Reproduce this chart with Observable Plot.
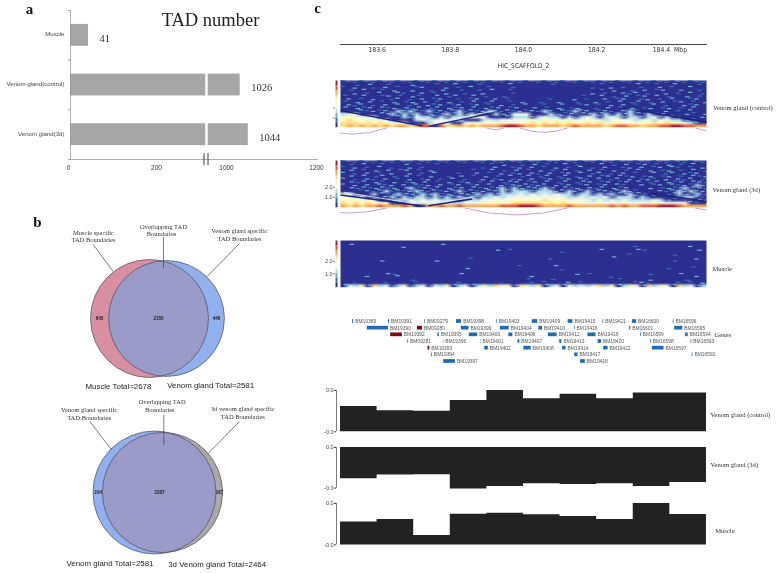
<!DOCTYPE html>
<html>
<head>
<meta charset="utf-8">
<script src="https://cdn.jsdelivr.net/npm/d3@7"></script>
<script src="https://cdn.jsdelivr.net/npm/@observablehq/plot@0.6"></script>
<style>
html,body{margin:0;padding:0;background:#fff}
#fig{position:relative;width:778px;height:573px;overflow:hidden;filter:blur(0.3px)}
#fig svg{position:absolute;background:transparent;overflow:visible}
</style>
</head>
<body>
<div id="fig"></div>
<script>
// ---------- panel a ----------
const tadCategories = ["Muscle", "Venom gland(control)", "Venom gland(3d)"];
const tadCounts = [41, 1026, 1044];
const tadTicks = [0, 200, 1000, 1200];

// ---------- panel b ----------
const venn1Names = ["Muscle", "Venom gland"];
const venn1Totals = [2678, 2581];
const venn2Names = ["Venom gland", "3d Venom gland"];
const venn2Totals = [2581, 2464];

// ---------- panel c : Hi-C contact levels read by eye (0 = navy ... 9 = dark red) ----------
const hicControl = [
"1111111111 1111111111 1111111111 1111111111 1111111111 1111111111",
"0010200100 0200010020 0010000200 0000100000 0010000020 0100200010",
"1020010201 0012000201 0200100010 0000000000 0100201001 0020100200",
"0102001020 0200102001 0010200100 0000000000 0010200102 0120020010",
"0020102002 1002010200 1002000010 0000000000 0201002120 1002010201",
"1002001201 0210020120 0201001000 0000000001 0020102012 0201002010",
"0201020012 0102012001 0120020100 0000100020 1002012001 2010200120",
"1020201020 1202010201 0201200102 0010020010 0201020120 1020120102",
"0212010202 0120212012 0120102010 2001002001 2010202010 0201002120",
"2021202120 2120120212 0202120120 0201020120 0102010201 2012010200",
"0002121213 2321312123 1212321212 1213202132 2012102310 0002010200",
"3440002232 3231212323 2321232144 4002321212 2323132321 3120002102",
"5544440002 3243323233 3444000233 3234332323 4323432332 3423210002",
"5655454400 0034344444 0003434444 4545454544 5443454434 4344332100",
"6665656545 5000344400 4545454545 5656565655 6565554545 5656554321",
"6767676767 7678808667 6767778998 7767776787 7776788776 7788998877"];
const hic3d = [
"1111111111 1111111111 1111111111 1111111111 1111111111 1111111111",
"0102001000 2010010000 0000102001 0201002010 0020102012 0102010200",
"1020102010 0201000000 0001020012 0201020102 0102001202 0120210102",
"0201020201 2010200000 0100201020 1020102010 2010201020 2012010201",
"2010201020 0201020001 0020102012 0210201202 0120102010 0201202120",
"0202012010 2010200102 0102010201 2012012010 2012021201 2012010212",
"2010210201 0201201020 1002012012 0201201202 1020120201 2102021201",
"0212021020 1202010201 2010201220 1202012012 2012012020 1202120221",
"2020202120 2021202012 0120202122 2122021201 2012021002 0120212132",
"0212122120 2312120212 0212123132 2223202120 2120212000 2012123221",
"0001212312 1232121223 1212223233 3233322322 3122123210 0021232322",
"4400032123 2223231212 2232323334 3434343323 3232322321 0001232231",
"4544000232 3233232323 2323343444 4444444334 3434233323 2100023321",
"5454540023 3434343332 3334444455 5556555444 4343434333 3432100022",
"6565654500 0445444433 4445555566 6665656555 4454445444 4544444210",
"7676778777 8700778778 7777778889 9987777877 7777878778 8899987777"];
const hicMuscle = [
"0000000000 0000000000 0000000000 0000000000 0000000000 0000000000",
"0200000000 0000002000 0000000000 0000000000 0000000000 0000000000",
"0000000000 2000000000 0000000000 0000000000 0000000010 0000000200",
"0000000000 0000000000 0000020100 0000000000 0020000021 0000000020",
"0000000000 0000000000 0000000000 0000001000 0000000100 0000000000",
"0000000000 0000000000 0000000000 0000000000 0000200000 0000100000",
"0000000000 0000000000 0100000000 0000100000 0000000000 0000000020",
"0000002000 0000020000 0000000000 0000000000 0000000000 0000100000",
"0000000000 0000000000 0000000001 0000020000 0000000000 0000000000",
"0000000000 0000000000 2000000000 0000000000 0000000000 0001000100",
"0000000000 0000000000 0000000000 0000001000 0000000000 0000000000",
"0000000210 0000000002 0000000000 0000000020 1000000000 1000020000",
"0000200002 0000000000 0000000000 0200000000 0000100000 0000000020",
"0000000000 0100000000 0000000000 1000100000 0000010000 2000001000",
"0010000100 0010000001 0000001000 0101000201 0000000012 1000010102",
"2435263423 5234243523 4235364526 4352342534 3463523542 6354263423"];
const hicLevels = [9, 8, 7, 6, 5, 4, 3, 2, 1, 0];
const hicPalette = ["#2b3090", "#3f6cb4", "#74aed2", "#b5dcea", "#eef8ec", "#ffffbf", "#fedf8d", "#fca85e", "#ea5a3a", "#b4162a"];

// Boundary stripes: [start Mbp, start row, end Mbp, end row]
const stripesControlDark = [[183.5,10.3,183.724,15.6],[183.74,15.7,183.92,11],[184.32,10.3,184.5,14.3]];
const stripesControlLight = [[183.5,11.3,183.71,15.4],[183.74,15.3,183.92,10.3]];
const stripes3dDark = [[183.5,11.8,183.72,15.5],[183.74,15.5,183.86,13.2],[184.35,11.2,184.5,14]];
const stripes3dLight = [[183.51,10.9,183.7,14.7],[183.74,15,183.86,12.6]];

// TAD-boundary links (start, end in Mbp)
const arcsControlStart = [183.44, 183.9, 183.99, 184.47];
const arcsControlEnd = [183.625, 183.945, 184.12, 184.56];
const arcs3dStart = [183.42, 183.84, 184.47];
const arcs3dEnd = [183.625, 184.12, 184.56];

// ---------- genes ----------
const geneNames = ["BM19389","BM19391","BM09279","BM19398","BM19403","BM19409","BM19415","BM19421","BM16600","BM16596",
"BM19390","BM09280","BM19399","BM19404","BM19410","BM19416","BM16601","BM16595",
"BM19392","BM19395","BM19400","BM19406","BM19412","BM19419","BM16599","BM16594",
"BM09281","BM19396","BM19401","BM19407","BM19413","BM19420","BM16598","BM16593",
"BM19393","BM19402","BM19408","BM19414","BM19422","BM16597",
"BM19394","BM19417","BM16592",
"BM19397","BM19418"];
const geneStarts = [183.533,183.631,183.730,183.817,183.926,184.024,184.122,184.217,184.298,184.409,
183.573,183.710,183.830,183.937,184.042,184.139,184.290,184.413,
183.637,183.766,183.852,183.960,184.068,184.176,184.320,184.443,
183.684,183.781,183.883,183.985,184.099,184.204,184.347,184.458,
183.739,183.894,184.001,184.107,184.219,184.352,
183.749,184.140,184.461,
183.782,184.156];
const geneEnds = [183.536,183.634,183.732,183.831,183.928,184.039,184.135,184.219,184.309,184.411,
183.631,183.724,183.851,183.961,184.052,184.141,184.293,184.435,
183.669,183.770,183.875,183.971,184.092,184.198,184.322,184.450,
183.686,183.782,183.884,183.990,184.105,184.213,184.349,184.460,
183.744,183.904,184.021,184.116,184.231,184.384,
183.751,184.149,184.463,
183.814,184.169];
const geneRows = [0,0,0,0,0,0,0,0,0,0, 1,1,1,1,1,1,1,1, 2,2,2,2,2,2,2,2, 3,3,3,3,3,3,3,3, 4,4,4,4,4,4, 5,5,5, 6,6];
const geneRedNames = ["BM09280", "BM19392", "BM19393"];

// ---------- bottom tracks (fraction of the axis span, 10 bins) ----------
const trackEdges = [183.5,183.6,183.7,183.8,183.9,184.0,184.1,184.2,184.3,184.4,184.5];
const trackControl = [0.61,0.51,0.50,0.76,1.00,0.80,0.91,0.80,0.94,0.94];
const track3d = [0.23,0.32,0.33,-0.02,0.04,0.11,0.09,0.11,0.04,0.14];
const trackMuscle = [0.556,0.613,0.226,0.742,0.766,0.726,0.685,0.613,1.00,0.734];

// ------------------------------------------------------------------
const fig = document.getElementById("fig");
const place = (svg, left, top) => { svg.style.left = left + "px"; svg.style.top = top + "px"; fig.appendChild(svg); return svg; };
const sans = "'Liberation Sans', Arial, sans-serif";
const serif = "'Liberation Serif', 'Times New Roman', serif";
const cond = "'DejaVu Sans Condensed','DejaVu Sans',sans-serif";
const mbpDomain = [183.5, 184.5];

// ---- a: bars on a broken axis ----
const tadRows = tadCategories.map((name, i) => ({name, i, n: tadCounts[i]}));
place(Plot.plot({
  width: 330, height: 180, marginLeft: 70, marginRight: 12, marginTop: 10, marginBottom: 21,
  style: {fontFamily: sans, background: "transparent"},
  x: {type: "linear", domain: tadTicks, range: [70, 158, 228, 318]},
  y: {domain: [0, 3], range: [10, 159]},
  marks: [
    Plot.rect(tadRows, {x1: () => 0, x2: "n", y1: d => d.i + 0.28, y2: d => d.i + 0.72, fill: "#a6a6a6"}),
    Plot.ruleX([748], {y1: 0, y2: 3, stroke: "#fff", strokeWidth: 2.4}),
    Plot.ruleY([3], {x1: 0, x2: 1200, stroke: "#9a9a9a", strokeWidth: 0.8}),
    Plot.ruleX([0], {y1: 0, y2: 3, stroke: "#9a9a9a", strokeWidth: 0.8}),
    Plot.ruleX([720, 766], {y1: 2.88, y2: 3.12, stroke: "#222", strokeWidth: 0.9}),
    Plot.axisY({anchor: "left", ticks: [0, 1, 2, 3], tickFormat: () => "", tickSize: 2, stroke: "#9a9a9a", label: null}),
    Plot.axisX({anchor: "bottom", ticks: tadTicks, tickFormat: d3.format("d"), tickSize: 0, tickPadding: 6, fontSize: 6.5, dx: -2, fill: "#333", label: null}),
    Plot.text(tadRows, {x: () => 0, y: d => d.i + 0.5, text: "name", textAnchor: "end", dx: -6, dy: -1, fontSize: 6.1, fill: "#444"}),
    Plot.text(tadRows, {x: "n", y: d => d.i + 0.5, text: d => String(d.n), textAnchor: "start", dx: 11, dy: 3, fontSize: 10.5, fontFamily: serif, fill: "#333"})
  ]
}), 0, 0);

// ---- b: venn circles, area proportional to total ----
function venn(names, totals, rMax, xRange, colors, top, id) {
  const sets = names.map((name, i) => ({name, i, total: totals[i]}));
  const svg = Plot.plot({
    width: 300, height: 140, margin: 0,
    x: {domain: [0, 1], range: xRange, axis: null},
    r: {domain: [0, d3.max(totals)], range: [0, rMax]},
    marks: [
      Plot.dot(sets.slice(0, 1), {x: "i", r: "total", fill: colors[0], className: "set-a"}),
      Plot.dot(sets.slice(1, 2), {x: "i", r: "total", fill: colors[1]}),
      Plot.dot(sets.slice(1, 2), {x: "i", r: "total", fill: colors[2], className: "set-lens"}),
      Plot.dot(sets, {x: "i", r: "total", fill: "none", stroke: "#4c4c5c", strokeWidth: 0.7})
    ]
  });
  const a = d3.select(svg).select(".set-a circle");
  d3.select(svg).append("clipPath").attr("id", id).append("circle")
    .attr("cx", a.attr("cx")).attr("cy", a.attr("cy")).attr("r", a.attr("r"));
  d3.select(svg).select(".set-lens circle").attr("clip-path", `url(#${id})`);
  return place(svg, 0, top);
}
venn(venn1Names, venn1Totals, 59, [149, 166], ["#d98fa2", "#90b1ee", "#9a9bc9"], 248, "lens1");
venn(venn2Names, venn2Totals, 61.5, [154, 162], ["#90b1ee", "#a9a9a9", "#9a9bc9"], 422, "lens2");

// ---- c: coordinate axis ----
place(Plot.plot({
  width: 778, height: 30, marginLeft: 340, marginRight: 72, marginTop: 10, marginBottom: 20,
  style: {fontFamily: cond, background: "transparent"},
  x: {domain: mbpDomain},
  marks: [
    Plot.frame({anchor: "bottom", stroke: "#333", strokeWidth: 0.9}),
    Plot.axisX({anchor: "bottom", ticks: [183.6, 183.8, 184.0, 184.2, 184.4], tickSize: 0, tickPadding: 3, fontSize: 6.8, fill: "#333", label: null,
      tickFormat: d => d3.format(".1f")(d) + (d > 184.3 ? "\u00a0\u00a0Mbp" : "")})
  ]
}), 0, 34);

// ---- c: Hi-C heat tracks: strong levels as a smooth raster, weak levels as thin specks ----
const nCols = 60;
function hic(rows, top, barTicks, barLabels, arcStarts, arcEnds, bend, dark, light) {
  const grid = rows.map(r => r.replace(/ /g, "").split("").map(Number));
  const strong = grid.flat().map(v => (v >= 3 ? v : 0));
  const specks = grid.flatMap((r, row) => r.map((v, col) => ({row, col, v}))).filter(d => d.v > 0 && d.v < 3);
  const stagger = d => (d.row % 2 ? 0.5 : 0);
  const rowShift = d => (d.col % 3 - 1) * 0.28;
  const arcs = arcStarts.map((s, i) => ({s, e: arcEnds[i]}));
  const stripe = seg => ({x1: seg[0], y1: seg[1], x2: seg[2], y2: seg[3]});
  place(Plot.plot({
    width: 778, height: 62, marginLeft: 340, marginRight: 72, marginTop: 0, marginBottom: 0,
    style: {fontFamily: sans, background: "transparent"},
    x: {domain: mbpDomain, axis: null},
    y: {domain: [0, 16], range: [0, 46.7], axis: null},
    color: {type: "linear", domain: d3.range(10), range: hicPalette},
    marks: [
      Plot.raster(strong, {width: nCols, height: 16, x1: 183.5, x2: 184.5, y1: 0, y2: 16, fill: d => d}),
      Plot.rect(specks, {
        x1: d => 183.5 + (d.col + stagger(d) + 0.05) / nCols,
        x2: d => Math.min(184.5, 183.5 + (d.col + stagger(d) + 0.8) / nCols),
        y1: d => d.row + 0.3 + rowShift(d), y2: d => d.row + 0.7 + rowShift(d), fill: "v"}),
      Plot.link(light.map(stripe), {x1: "x1", y1: "y1", x2: "x2", y2: "y2", stroke: "#d4ecf2", strokeWidth: 0.9}),
      Plot.link(dark.map(stripe), {x1: "x1", y1: "y1", x2: "x2", y2: "y2", stroke: "#1c2278", strokeWidth: 1.4}),
      Plot.raster(hicLevels, {width: 1, height: 10, x1: 183.4863, x2: 183.4918, y1: 0, y2: 16, fill: d => d, imageRendering: "pixelated"}),
      Plot.ruleY(barTicks, {x1: 183.481, x2: 183.4863, stroke: "#555", strokeWidth: 0.7}),
      Plot.text(barTicks, {x: 183.481, y: d => d, text: (d, i) => barLabels[i], textAnchor: "end", dx: -1, fontSize: 5.5, fill: "#444"}),
      arcs.length ? Plot.arrow(arcs, {x1: "s", x2: "e", y1: () => 16.3, y2: () => 16.3, bend, headLength: 0, stroke: "#c580c8", strokeWidth: 0.8, clip: true}) : null
    ]
  }), 0, top);
}
hic(hicControl, 80, [9.4, 12.85], ["", ""], arcsControlStart, arcsControlEnd, -20, stripesControlDark, stripesControlLight);
hic(hic3d, 160, [9.15, 12.6], ["2.0", "1.0"], arcs3dStart, arcs3dEnd, -15, stripes3dDark, stripes3dLight);
hic(hicMuscle, 240, [7.2, 11.4], ["2.0", "1.0"], [], [], 0, [], []);

// ---- c: genes ----
const genes = geneNames.map((name, i) => ({name, start: geneStarts[i], end: geneEnds[i], row: geneRows[i], kind: geneRedNames.includes(name) ? "maroon strand" : "blue strand"}));
place(Plot.plot({
  width: 778, height: 62, marginLeft: 340, marginRight: 72, marginTop: 0, marginBottom: 0,
  style: {fontFamily: sans, background: "transparent"},
  x: {domain: mbpDomain, axis: null},
  y: {domain: [0, 6], range: [11, 51], axis: null},
  color: {type: "ordinal", domain: ["blue strand", "maroon strand"], range: ["#1f6db0", "#7c0d16"]},
  marks: [
    Plot.rect(genes, {x1: "start", x2: "end", y1: d => d.row - 0.28, y2: d => d.row + 0.28, fill: "kind"}),
    Plot.text(genes, {x: "end", y: "row", text: "name", textAnchor: "start", dx: 1.5, fontSize: 4.9, fill: "#555"})
  ]
}), 0, 310);

// ---- c: step tracks ----
function track(values, baseline, top, height) {
  const pts = trackEdges.map((x, i) => ({x, v: values[Math.min(i, values.length - 1)]}));
  place(Plot.plot({
    width: 778, height: height + 8, marginLeft: 340, marginRight: 72, marginTop: 4, marginBottom: 4,
    style: {fontFamily: sans, background: "transparent"},
    x: {domain: mbpDomain, axis: null},
    y: {domain: [0, 1]},
    marks: [
      Plot.areaY(pts, {x: "x", y1: () => baseline, y2: "v", curve: "step-after", fill: "#222"}),
      Plot.ruleX([183.5], {dx: -4, y1: 0, y2: 1, stroke: "#444", strokeWidth: 0.7}),
      Plot.axisY({anchor: "left", ticks: [0, 1], tickFormat: d => d ? "0.0" : "-0.0", tickSize: 2, tickPadding: 1, dx: -4, fontSize: 5.5, fill: "#444", stroke: "#444", label: null})
    ]
  }), 0, top - 4);
}
track(trackControl, 0, 390, 41.3);
track(track3d, 1, 446.7, 40.6);
track(trackMuscle, 0, 503.3, 41.4);

// ---- annotation layer: panel letters, titles, venn and row labels ----
const letters = [{x: 29, y: 9, t: "a"}, {x: 37, y: 222, t: "b"}, {x: 317, y: 8, t: "c"}];
const serifNotes = [
  {x: 93, y: 232, t: "Muscle specific"}, {x: 93, y: 239.5, t: "TAD Boundaries"},
  {x: 163, y: 226, t: "Overlapping TAD"}, {x: 161, y: 233.5, t: "Boundaries"},
  {x: 239, y: 230.7, t: "Venom gland specific"}, {x: 239, y: 238.5, t: "TAD Boundaries"},
  {x: 88.7, y: 409.7, t: "Venom gland specific"}, {x: 88.7, y: 417.7, t: "TAD Boundaries"},
  {x: 161.7, y: 401, t: "Overlapping TAD"}, {x: 159.3, y: 409, t: "Boundaries"},
  {x: 242.3, y: 408.7, t: "3d venom gland specific"}, {x: 242.3, y: 416.7, t: "TAD Boundaries"}
];
const vennCounts = [
  {x: 99, y: 318, t: "645"}, {x: 158, y: 318, t: "2155"}, {x: 216, y: 318, t: "446"},
  {x: 97.7, y: 492.3, t: "294"}, {x: 159, y: 492.3, t: "2287"}, {x: 219, y: 492.3, t: "167"}
];
const vennTotals = [
  {x: 85, y: 386, t: "Muscle Total=2678"}, {x: 166.7, y: 385, t: "Venom gland Total=2581"},
  {x: 66, y: 563, t: "Venom gland Total=2581"}, {x: 167.7, y: 564, t: "3d Venom gland Total=2464"}
];
const rowLabels = [
  {x: 712.5, y: 107, t: "Venom gland (control)"}, {x: 712, y: 189, t: "Venom gland (3d)"}, {x: 712, y: 268.7, t: "Muscle"},
  {x: 714, y: 334, t: "Genes"},
  {x: 710, y: 414, t: "Venom gland (control)"}, {x: 710, y: 464.7, t: "Venom gland (3d)"}, {x: 714.7, y: 530.7, t: "Muscle"}
];
const leaders = [
  {x1: 92.7, y1: 244, x2: 112.7, y2: 271}, {x1: 163, y1: 236.7, x2: 163, y2: 267.7}, {x1: 239, y1: 243, x2: 206.7, y2: 276},
  {x1: 89.3, y1: 420.7, x2: 110.7, y2: 449}, {x1: 163.3, y1: 414.3, x2: 163.3, y2: 444.3}, {x1: 239, y1: 421, x2: 207.3, y2: 453.3}
];
const textOf = {x: "x", y: "y", text: "t"};
place(Plot.plot({
  width: 778, height: 573, margin: 0,
  style: {background: "transparent", fontFamily: serif},
  x: {type: "identity", axis: null},
  y: {type: "identity", axis: null},
  marks: [
    Plot.link(leaders, {x1: "x1", y1: "y1", x2: "x2", y2: "y2", stroke: "#444", strokeWidth: 0.7}),
    Plot.text(letters, {...textOf, fontSize: 15, fontWeight: "bold", fill: "#111"}),
    Plot.text([{x: 210, y: 20, t: "TAD number"}], {...textOf, fontSize: 18.5, fill: "#222"}),
    Plot.text(serifNotes, {...textOf, fontSize: 6.5, fill: "#333"}),
    Plot.text(rowLabels, {...textOf, textAnchor: "start", fontSize: 6.6, fill: "#333"}),
    Plot.text(vennCounts, {...textOf, fontSize: 4.6, fontWeight: "bold", fontFamily: sans, fill: "#222"}),
    Plot.text(vennTotals, {...textOf, textAnchor: "start", fontSize: 7.9, fontFamily: sans, fill: "#222"}),
    Plot.text([{x: 523, y: 65, t: "HIC_SCAFFOLD_2"}], {...textOf, fontSize: 6.6, fontFamily: cond, fill: "#333"})
  ]
}), 0, 0);
</script>
</body>
</html>
